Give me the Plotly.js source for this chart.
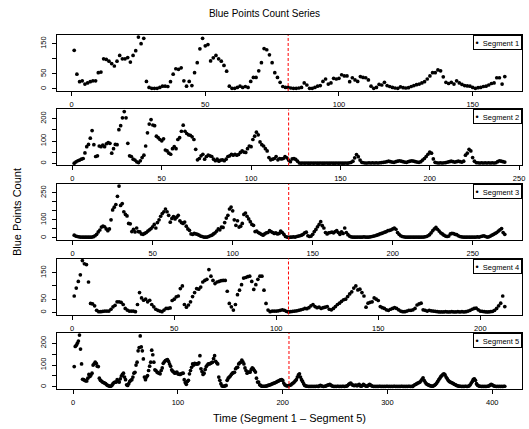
<!DOCTYPE html>
<html><head><meta charset="utf-8">
<script src="https://cdn.plot.ly/plotly-3.0.1.min.js"></script>
<style>html,body{margin:0;padding:0;background:#fff}#chart{width:529px;height:429px}</style>
</head><body><div id="chart"></div>
<script>
const segment1 = [
128,49,24,27,16,20,24,27,27,54,
56,100,98,92,84,76,92,111,100,100,
104,89,111,127,172,150,168,25,5,2,
2,2,5,9,9,8,24,49,67,65,
70,27,9,25,11,54,87,133,168,143,
147,93,103,111,100,92,78,59,9,2,
2,5,9,5,8,5,25,38,38,60,
87,134,130,113,87,54,38,22,8,5,
5,3,2,2,3,5,20,13,2,2,
5,9,11,25,33,16,20,35,33,35,
47,43,43,24,37,30,25,41,38,37,
30,9,2,5,15,13,22,11,8,5,
3,2,7,4,3,4,8,11,14,16,
20,24,33,43,54,54,63,60,40,22,
18,22,16,27,20,15,11,10,9,5,
2,4,5,8,9,13,18,20,37,37,
16,41];
const segment2 = [
1,7,12,15,19,22,47,75,85,113,
147,84,31,34,78,75,82,75,88,93,
90,46,66,85,84,151,169,204,232,204,
90,34,31,19,15,7,4,12,26,37,
78,137,176,196,172,169,122,115,107,101,
110,60,56,46,41,66,75,66,107,115,
144,171,144,134,128,126,119,107,63,16,
22,34,41,19,31,37,34,31,19,12,
19,10,15,16,12,19,31,34,41,37,
41,37,40,49,56,51,49,66,78,75,
107,122,140,128,96,84,78,66,56,26,
16,19,22,31,16,22,20,22,31,25,
15,8,20,22,18,10,2,1,2,1,
2,1,1,2,1,2,1,1,2,1,
1,2,1,1,2,1,1,2,1,2,
1,1,2,1,3,5,10,25,40,30,
15,5,3,2,2,3,2,3,2,3,
2,3,4,5,6,8,10,8,6,5,
8,10,12,10,8,6,5,8,10,12,
10,8,6,5,8,15,22,31,41,51,
46,20,5,3,2,3,2,3,4,6,
8,10,8,6,8,10,8,6,10,37,
46,63,56,26,10,4,3,2,3,2,
3,2,3,2,3,2,3,8,12,10,
8,6];
const segment3 = [
15,10,8,6,5,5,4,4,4,4,
4,5,7,12,20,33,44,60,65,62,
50,40,50,100,155,170,185,230,287,180,
190,145,130,122,80,78,35,47,33,55,
35,33,22,20,25,30,38,45,52,62,
75,55,85,100,120,135,145,160,145,125,
87,108,118,105,115,125,95,85,80,88,
65,50,42,22,20,25,22,20,15,10,
8,5,4,5,8,12,15,22,28,38,
50,45,60,58,85,110,125,160,171,150,
100,70,95,60,65,80,130,138,120,105,
90,75,70,35,38,30,25,20,15,22,
28,30,40,35,30,25,28,22,25,38,
30,20,8,5,3,4,5,6,5,8,
10,12,15,20,28,32,12,8,10,20,
35,47,62,75,90,68,55,30,22,28,
30,32,28,35,40,30,20,33,25,55,
30,18,10,6,5,4,4,5,5,4,
5,6,5,4,5,6,8,10,12,15,
18,22,25,28,32,35,40,42,45,50,
55,48,30,20,12,8,6,5,4,4,
4,5,4,4,5,4,4,5,5,6,
8,12,18,28,40,50,58,48,38,28,
22,15,10,8,10,22,25,24,20,18,
12,8,6,5,4,4,5,4,4,5,
4,5,6,5,8,10,12,8,5,6,
10,15,20,25,30,38,45,52,30,20];
const segment4 = [
62,92,117,142,196,184,181,115,34,32,
25,8,3,3,4,5,5,5,12,21,
27,40,40,38,30,15,9,5,5,5,
3,30,75,55,46,50,40,46,30,21,
12,8,5,3,9,15,15,17,45,50,
59,62,90,100,30,20,28,40,60,75,
90,88,96,115,121,125,162,137,121,109,
115,117,120,121,121,80,34,21,9,30,
67,84,105,130,132,135,137,117,87,105,
125,137,137,84,34,9,3,5,5,5,
6,8,10,8,4,2,3,4,5,6,
8,10,12,15,14,18,25,30,22,18,
20,15,18,20,22,12,10,15,22,30,
35,42,48,50,60,70,78,92,100,85,
88,75,62,20,35,38,40,55,50,45,
22,18,15,10,8,12,15,18,15,10,
5,3,3,5,8,8,10,15,28,32,
35,10,8,5,8,6,5,4,3,2,
2,2,3,2,2,3,2,2,3,2,
3,2,3,5,8,12,15,16,10,5,
4,3,2,2,3,4,8,15,25,35,
62,22];
const segment5 = [
93,185,190,200,210,237,173,105,35,33,
30,28,27,40,57,48,55,63,100,105,
113,108,95,93,40,30,27,22,20,18,
15,10,7,5,3,3,8,15,20,22,
22,33,25,22,37,50,57,63,45,33,
10,7,15,25,30,33,45,63,67,100,
113,165,180,233,183,165,128,45,33,45,
52,75,95,113,168,147,113,78,75,68,
65,63,60,75,87,108,115,120,123,125,
117,105,95,78,72,68,63,65,68,60,
58,57,60,62,63,33,20,12,25,30,
60,75,90,105,100,108,105,105,105,110,
143,83,70,57,63,80,93,100,105,105,
108,110,113,130,143,117,110,105,45,30,
15,5,3,3,5,7,30,40,45,50,
57,63,65,67,83,88,90,105,110,113,
123,115,105,87,75,63,68,68,68,80,
87,83,75,68,40,22,22,10,7,3,
3,3,3,4,5,7,8,10,12,14,
16,18,20,22,25,27,30,32,33,30,
18,10,7,5,5,6,8,10,15,18,
22,28,33,45,55,60,45,33,25,15,
7,5,3,3,2,3,2,3,2,3,
2,3,3,2,5,7,5,3,2,3,
4,6,8,10,12,8,5,3,2,3,
2,3,3,2,3,2,3,3,2,3,
4,6,12,15,18,12,8,6,7,8,
5,8,12,5,3,6,12,8,5,3,
4,8,12,8,5,3,2,3,2,3,
2,3,3,2,3,2,3,2,3,3,
2,3,2,3,2,3,3,2,3,2,
3,2,3,3,2,3,2,3,2,3,
3,2,3,2,6,10,12,15,18,20,
22,28,35,42,30,22,15,12,9,7,
5,4,3,5,8,12,18,25,33,40,
48,52,58,60,55,45,38,30,25,22,
20,18,15,12,10,7,5,4,3,3,
2,3,2,3,3,2,3,5,10,18,
25,35,37,30,15,8,5,3,3,2,
3,2,3,2,3,3,5,8,12,10,
6,4,3,2,3,2,3,2,3,2,
3,3];

const seriesNames = ['Segment 1','Segment 2','Segment 3','Segment 4','Segment 5'];
const seriesList = [segment1, segment2, segment3, segment4, segment5];
const xTickVals = [[0,50,100,150],[0,50,100,150,200,250],[0,50,100,150,200,250],[0,50,100,150,200],[0,100,200,300,400]];
const yTickVals = [[0,50,100,150],[0,50,100,150,200],[0,50,100,150,200,250],[0,50,100,150],[0,50,100,150,200]];
const yTickText = [['0','50','','150'],['0','','100','','200'],['0','','100','','','250'],['0','50','','150'],['0','','100','','200']];
const chartTitle = 'Blue Points Count Series';
const xTitle = 'Time (Segment 1 \u2013 Segment 5)';
const yTitle = 'Blue Points Count';

const domains = [[0.84181,1],[0.63136,0.78955],[0.42090,0.57910],[0.21045,0.36864],[0,0.15819]];
const FONT = 'Liberation Sans, Arial, Helvetica, sans-serif';

const traces = [], shapes = [], annotations = [];
const layout = {
  width: 529, height: 429,
  margin: {l: 57, r: 7, t: 35, b: 40},
  paper_bgcolor: '#fff', plot_bgcolor: '#fff',
  showlegend: false,
  font: {family: FONT, color: '#000'},
  title: {text: chartTitle, x: 0.5, xref: 'container', y: 1 - 13/429, yref: 'container', yanchor: 'middle', xanchor: 'center', font: {family: FONT, size: 10, color: '#000'}}
};

seriesList.forEach((ys, k) => {
  const n = ys.length;
  const xs = ys.map((_, i) => i + 1);
  const sfx = k === 0 ? '' : String(k + 1);
  traces.push({type: 'scatter', mode: 'markers', x: xs, y: ys, xaxis: 'x' + sfx, yaxis: 'y' + sfx,
    name: seriesNames[k], marker: {color: '#000', size: 3.7}, showlegend: false});
  const ymin = Math.min(0, ...ys), ymax = Math.max(...ys), yr = ymax - ymin;
  const xpad = 0.04 * (n - 1);
  layout['xaxis' + sfx] = {
    domain: [0, 1], anchor: 'y' + sfx, range: [1 - xpad, n + xpad],
    tickmode: 'array', tickvals: xTickVals[k],
    ticks: 'outside', ticklen: 4, tickwidth: 1, tickcolor: '#000', ticklabelstandoff: 2,
    showline: true, mirror: true, linecolor: '#000', linewidth: 1,
    showgrid: false, zeroline: false,
    tickfont: {family: FONT, size: 7.5, color: '#000'}
  };
  layout['yaxis' + sfx] = {
    domain: domains[k], anchor: 'x' + sfx, range: [ymin - 0.04 * yr, ymax + 0.04 * yr],
    tickmode: 'array', tickvals: yTickVals[k], ticktext: yTickText[k], tickangle: -90,
    ticks: 'outside', ticklen: 4, tickwidth: 1, tickcolor: '#000', ticklabelstandoff: 3,
    showline: true, mirror: true, linecolor: '#000', linewidth: 1,
    showgrid: false, zeroline: false,
    tickfont: {family: FONT, size: 7.5, color: '#000'}
  };
  shapes.push({type: 'line', xref: 'x' + sfx, yref: 'y' + sfx + ' domain', x0: n / 2, x1: n / 2, y0: 0, y1: 1,
    line: {color: '#ff0000', width: 1, dash: '3px,2px'}});
  annotations.push({xref: 'paper', yref: 'paper', x: 1, y: domains[k][1], xanchor: 'right', yanchor: 'top',
    text: '<span style="font-size:9px">\u2022</span>  ' + seriesNames[k], showarrow: false,
    bordercolor: '#000', borderwidth: 1, borderpad: 1.5,
    bgcolor: '#fff', align: 'left', font: {family: FONT, size: 7.5, color: '#000'}});
});

layout.xaxis5.title = {text: xTitle, standoff: 8, font: {family: FONT, size: 11, color: '#000'}};
layout.yaxis3.title = {text: yTitle, standoff: 15, font: {family: FONT, size: 11, color: '#000'}};
layout.shapes = shapes;
layout.annotations = annotations;

Plotly.newPlot('chart', traces, layout, {displayModeBar: false, staticPlot: true});
</script>
</body></html>
